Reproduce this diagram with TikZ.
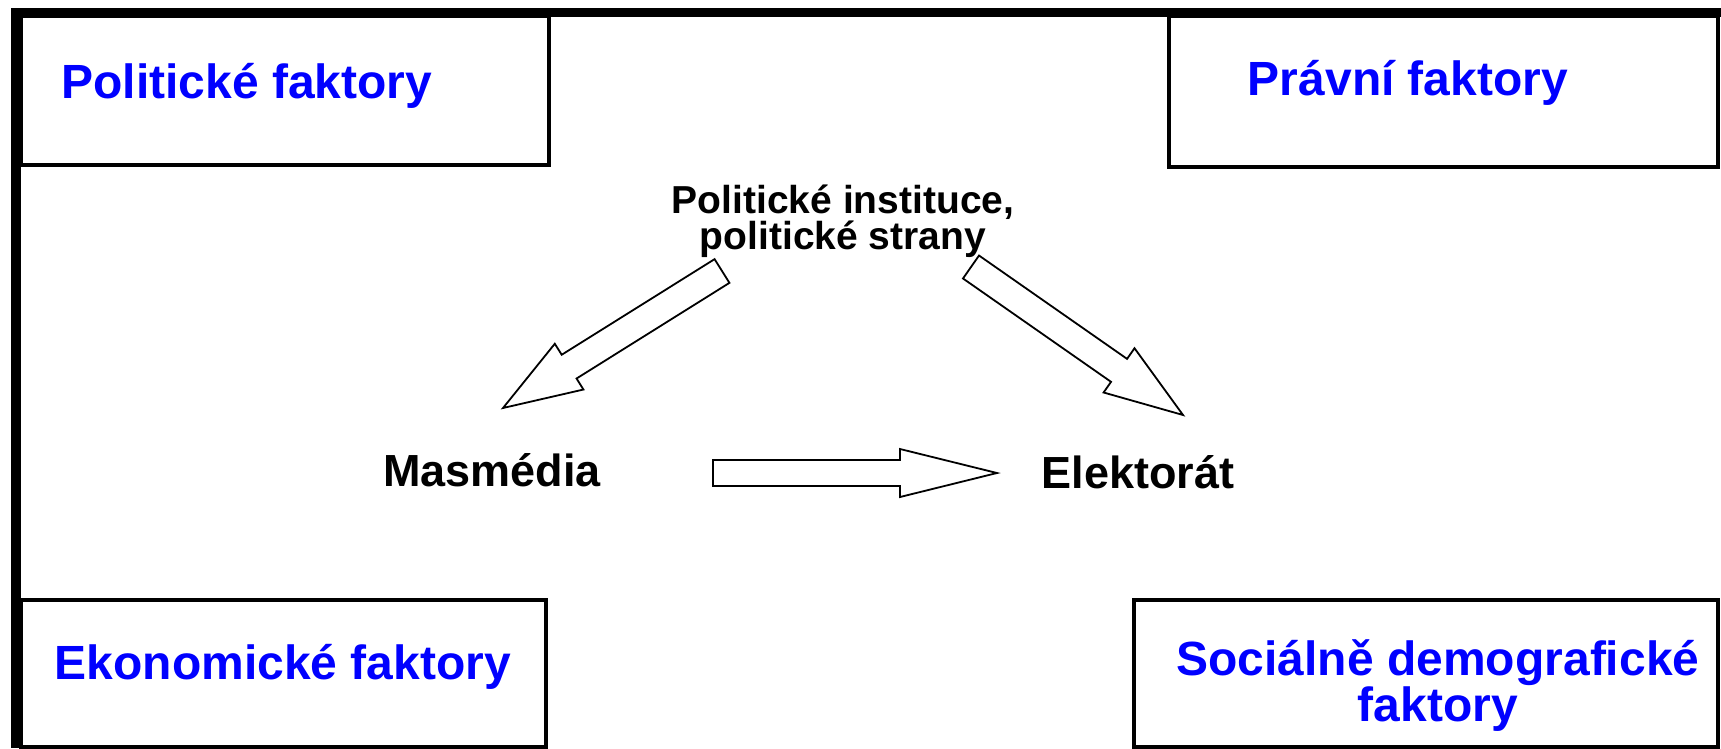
\documentclass[tikz,border=0pt]{standalone}
\usepackage{fontspec}
\setmainfont{Liberation Sans}
\usetikzlibrary{calc}
\definecolor{fblue}{RGB}{0,0,255}
\tikzset{
  boxline/.style={draw=black,line width=4.5pt},
  factor/.style={text=fblue,font=\bfseries\fontsize{48}{38}\selectfont,align=center,inner sep=0pt},
  actor/.style={text=black,font=\bfseries\fontsize{45}{40}\selectfont,align=center,inner sep=0pt},
  inststyle/.style={text=black,font=\bfseries\fontsize{39}{33}\selectfont,align=center,inner sep=0pt},
  blk/.style={draw=black,line width=1.8pt,fill=white,line join=miter},
}
\newcommand\blockarrow[6]{%
  \coordinate (#6h) at ($(#2)!#5!(#1)$);
  \draw[blk] ($(#1)!#3!90:(#2)$) -- ($(#6h)!#3!-90:(#1)$) -- ($(#6h)!#4!-90:(#1)$) -- (#2)
     -- ($(#6h)!#4!90:(#1)$) -- ($(#6h)!#3!90:(#1)$) -- ($(#1)!#3!-90:(#2)$) -- cycle;
}
\begin{document}
\begin{tikzpicture}[x=1pt,y=-1pt]
\useasboundingbox[fill=white] (0,0) rectangle (1721,748);
% corner boxes
\draw[boxline] (21,16) rectangle (549,165);
\draw[boxline] (1169,16) rectangle (1718,167);
\draw[boxline] (21,600) rectangle (546,747);
\draw[boxline] (1134,600) rectangle (1718,747);
% frame
\draw[line width=9pt] (11,12.5) -- (1721,12.5);
\draw[line width=10pt] (16,8) -- (16,748);
% texts
\node[factor] (pol) at (247,86) {Politické faktory};
\node[factor] (prav) at (1408,83) {Právní faktory};
\node[factor] (eko) at (283,667) {Ekonomické faktory};
\node[factor] (soc) at (1438,686) {Sociálně demografické\\faktory};
\node[inststyle] (inst) at (843,221) {Politické instituce,\\politické strany};
\node[actor] (mas) at (492,470) {Masmédia};
\node[actor] (ele) at (1138,472) {Elektorát};
% arrows
\coordinate (a1t) at (722,271);
\coordinate (a1h) at (503,408);
\coordinate (a2t) at (971,267);
\coordinate (a2h) at (1183,415);
\coordinate (a3t) at (713,473);
\coordinate (a3h) at (997,473);
\blockarrow{a1t}{a1h}{14pt}{27pt}{78pt}{la}
\blockarrow{a2t}{a2h}{14pt}{27pt}{78pt}{ra}
\blockarrow{a3t}{a3h}{13pt}{24pt}{97pt}{ha}
\end{tikzpicture}
\end{document}
